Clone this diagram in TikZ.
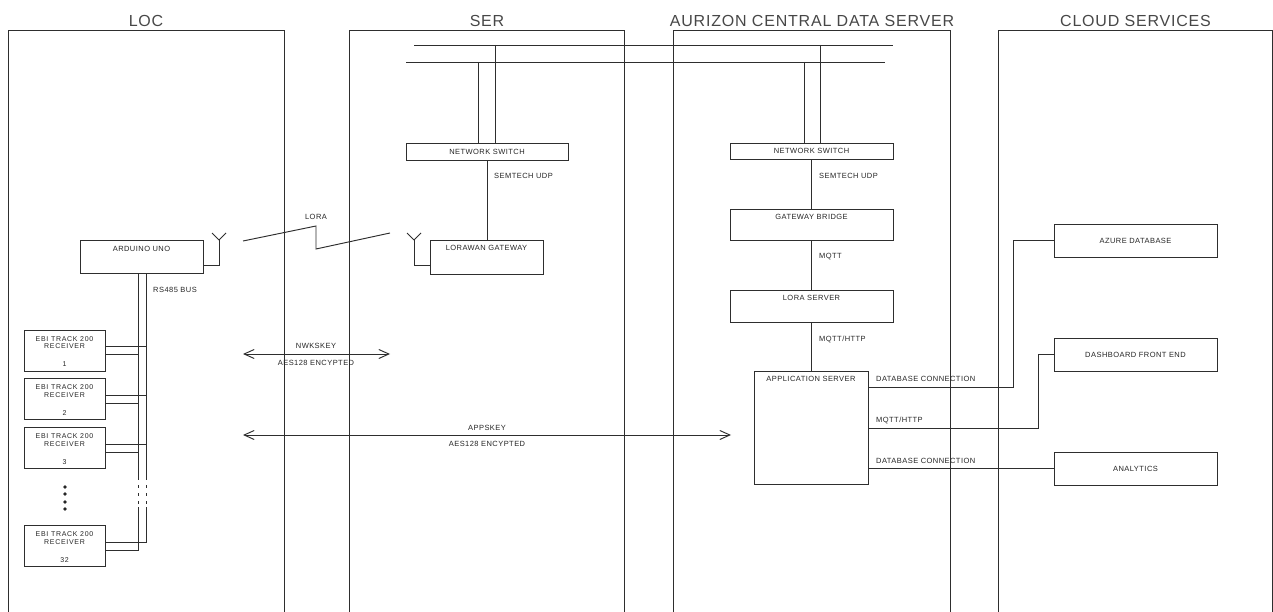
\documentclass[tikz,border=0pt]{standalone}
\usepackage{fontspec}
\setmainfont{Liberation Sans}
\newfontfamily\lblfont{Liberation Sans}[LetterSpace=6]
\newfontfamily\rxfont{Liberation Sans}[LetterSpace=10]
\newfontfamily\ttlfont{Liberation Sans}[LetterSpace=5]
\usetikzlibrary{arrows.meta,calc}
\begin{document}
\begin{tikzpicture}[x=1pt,y=-1pt,
  ln/.style={draw=black!82,line width=0.95pt},
  box/.style={ln,rectangle,inner sep=0pt,fill=white},
  lbl/.style={font=\lblfont\fontsize{7.5}{8}\selectfont,text=black!85,inner sep=0pt},
  small/.style={font=\rxfont\fontsize{7}{7.8}\selectfont,text=black!85,inner sep=0pt,align=center},
  ttl/.style={font=\ttlfont\fontsize{16}{18}\selectfont,text=black!72,inner sep=0pt,anchor=base},
  toptext/.style={label={[lbl,anchor=north,yshift=-5.5pt]north:#1}},
  rx/.style={box,minimum width=81pt,minimum height=41pt},
  keyarrow/.style={ln,{Straight Barb[length=10pt,width=9pt]}-{Straight Barb[length=10pt,width=9pt]}}
]
\useasboundingbox (0,0) rectangle (1273,612);

% panels
\draw[ln] (8,612) -- (8,30) -- (284,30) -- (284,612);
\draw[ln] (349,612) -- (349,30) -- (624,30) -- (624,612);
\draw[ln] (673,612) -- (673,30) -- (950,30) -- (950,612);
\draw[ln] (998,612) -- (998,30) -- (1272,30) -- (1272,612);
\node[ttl] (tloc) at (146,27) {LOC};
\node[ttl] (tser) at (487,27) {SER};
\node[ttl] (taur) at (812,27) {AURIZON CENTRAL DATA SERVER};
\node[ttl] (tcld) at (1135.5,27) {CLOUD SERVICES};

% network bus
\coordinate (bA1) at (414,45); \coordinate (bA2) at (893,45);
\coordinate (bB1) at (406,62); \coordinate (bB2) at (885,62);
\draw[ln] (bA1) -- (bA2);
\draw[ln] (bB1) -- (bB2);

% SER column
\node[box,minimum width=162pt,minimum height=17pt] (sw1) at (487,151.5) {};
\node[lbl] (sw1t) at (sw1.center) {NETWORK SWITCH};
\node[box,minimum width=113pt,minimum height=34pt,toptext={LORAWAN GATEWAY}] (gw) at (486.5,257) {};
\coordinate (t1) at (495,45); \coordinate (t2) at (478,62);
\draw[ln] (t1) -- (t1 |- sw1.north);
\draw[ln] (t2) -- (t2 |- sw1.north);
\draw[ln] (sw1.south) -- (sw1.south |- gw.north);
\node[lbl,anchor=west] (semt1) at (494,176) {SEMTECH UDP};

% AURIZON column
\node[box,minimum width=163pt,minimum height=16pt] (sw2) at (811.5,151) {};
\node[lbl] (sw2t) at (sw2.center) {NETWORK SWITCH};
\node[box,minimum width=163pt,minimum height=31pt,toptext={GATEWAY BRIDGE}] (gb) at (811.5,224.5) {};
\node[box,minimum width=163pt,minimum height=32pt,toptext={LORA SERVER}] (ls) at (811.5,306) {};
\node[box,minimum width=114pt,minimum height=113pt,toptext={APPLICATION SERVER}] (app) at (811,427.5) {};
\coordinate (t3) at (820,45); \coordinate (t4) at (804,62);
\draw[ln] (t3) -- (t3 |- sw2.north);
\draw[ln] (t4) -- (t4 |- sw2.north);
\draw[ln] (sw2.south) -- (sw2.south |- gb.north);
\draw[ln] (gb.south) -- (gb.south |- ls.north);
\draw[ln] (ls.south) -- (ls.south |- app.north);
\node[lbl,anchor=west] (semt2) at (819,176) {SEMTECH UDP};
\node[lbl,anchor=west] (mqtt1) at (819,257) {MQTT};
\node[lbl,anchor=west] (mqtt2) at (819,339) {MQTT/HTTP};

% CLOUD column
\node[box,minimum width=163pt,minimum height=33pt] (azure) at (1135.5,240.5) {};
\node[lbl] at (azure.center) {AZURE DATABASE};
\node[box,minimum width=163pt,minimum height=33pt] (dash) at (1135.5,354.5) {};
\node[lbl] at (dash.center) {DASHBOARD FRONT END};
\node[box,minimum width=163pt,minimum height=33pt] (ana) at (1135.5,468.5) {};
\node[lbl] at (ana.center) {ANALYTICS};
\draw[ln] (app.east |- 0,387) -- (1013,387) |- (azure.west);
\draw[ln] (app.east |- 0,428) -- (1038,428) |- (dash.west);
\draw[ln] (app.east |- ana.west) -- (ana.west);
\node[lbl,anchor=west] at (876,379) {DATABASE CONNECTION};
\node[lbl,anchor=west] at (876,420) {MQTT/HTTP};
\node[lbl,anchor=west] at (876,461) {DATABASE CONNECTION};

% LOC column
\node[box,minimum width=123pt,minimum height=33pt,label={[lbl,anchor=north,yshift=-7pt]north:ARDUINO UNO}] (ard) at (141.5,256.5) {};
% antennas
\coordinate (a1) at (219,240);
\draw[ln] (ard.east |- 0,265) -| (a1);
\draw[ln] (a1) -- ++(-7,-7);
\draw[ln] (a1) -- ++(7,-7);
\coordinate (a2) at (414,240);
\draw[ln] (gw.west |- 0,265) -| (a2);
\draw[ln] (a2) -- ++(-7,-7);
\draw[ln] (a2) -- ++(7,-7);
% LoRa link
\coordinate (z1) at (243,241); \coordinate (z2) at (316,226);
\coordinate (z3) at (316,249); \coordinate (z4) at (390,233);
\draw[ln] (z1) -- (z2) -- (z3) -- (z4);
\node[lbl] (lora) at (316,217) {LORA};

% receivers
\node[rx,label={[small,anchor=north,yshift=-6.5pt]north:EBI TRACK 200\\RECEIVER},label={[small,anchor=south,yshift=4.5pt]south:1}] (r1) at (64.5,350.5) {};
\node[rx,label={[small,anchor=north,yshift=-6.5pt]north:EBI TRACK 200\\RECEIVER},label={[small,anchor=south,yshift=4.5pt]south:2}] (r2) at (64.5,399) {};
\node[rx,label={[small,anchor=north,yshift=-6.5pt]north:EBI TRACK 200\\RECEIVER},label={[small,anchor=south,yshift=4.5pt]south:3}] (r3) at (64.5,448) {};
\node[rx,label={[small,anchor=north,yshift=-6.5pt]north:EBI TRACK 200\\RECEIVER},label={[small,anchor=south,yshift=4.5pt]south:32}] (r32) at (64.5,546) {};
\foreach \yy in {487,494,502,509} \fill[black!85] (65,\yy) circle (1.8pt);

% RS485 bus
\coordinate (bi1) at (138,477); \coordinate (bi2) at (138,507);
\coordinate (bo1) at (146,477); \coordinate (bo2) at (146,507);
\draw[ln] (ard.south -| 138,0) -- (bi1);
\draw[ln] (ard.south -| 146,0) -- (bo1);
\draw[ln,dash pattern=on 3pt off 5pt] (bi1) -- (bi2);
\draw[ln,dash pattern=on 3pt off 5pt] (bo1) -- (bo2);
\draw[ln] (bi2) -- (138,550) -- (r32.east |- 0,550);
\draw[ln] (bo2) -- (146,542) -- (r32.east |- 0,542);
\draw[ln] (r1.east |- 0,346) -- (146,346);
\draw[ln] (r1.east |- 0,354) -- (138,354);
\draw[ln] (r2.east |- 0,395) -- (146,395);
\draw[ln] (r2.east |- 0,403) -- (138,403);
\draw[ln] (r3.east |- 0,444) -- (146,444);
\draw[ln] (r3.east |- 0,452) -- (138,452);
\node[lbl,anchor=west] (rs485) at (153,290) {RS485 BUS};

% key arrows
\coordinate (nkL) at (243,354); \coordinate (nkR) at (390,354);
\draw[keyarrow] (nkL) -- (nkR);
\node[lbl] at (316,346) {NWKSKEY};
\node[lbl] at (316,363) {AES128 ENCYPTED};
\coordinate (akL) at (243,435); \coordinate (akR) at (731,435);
\draw[keyarrow] (akL) -- (akR);
\node[lbl] at (487,428) {APPSKEY};
\node[lbl] at (487,444) {AES128 ENCYPTED};
\end{tikzpicture}
\end{document}
